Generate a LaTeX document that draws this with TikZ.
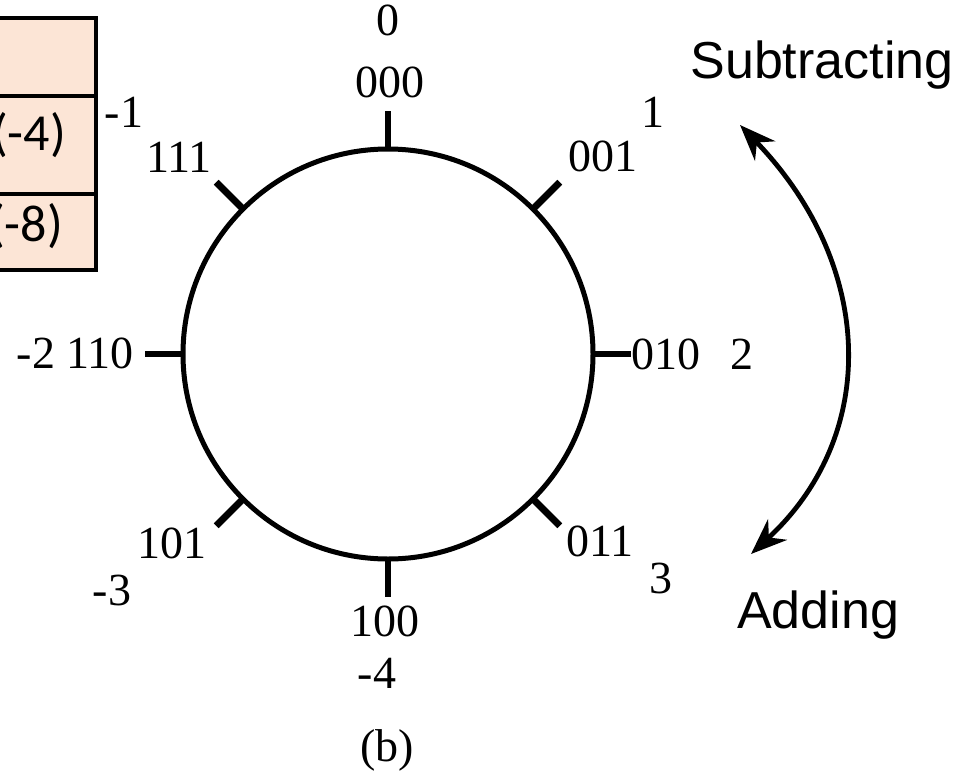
\documentclass[tikz,border=0pt]{standalone}
\usepackage{fontspec}
\setmainfont{Liberation Serif}
\setsansfont{Liberation Sans}
\newfontfamily\tabfont{Carlito}
\usepackage{tikz}
\usetikzlibrary{positioning,arrows.meta}

\definecolor{cellpeach}{RGB}{252,229,214}

\begin{document}
\begin{tikzpicture}[
  x=0.5pt, y=-0.5pt,
  every node/.style={inner sep=0pt, outer sep=0pt},
  num/.style={font=\fontsize{23}{25}\selectfont},
  word/.style={font=\sffamily\fontsize{26}{28}\selectfont, anchor=base},
  cell/.style={draw, line width=1.8pt, fill=cellpeach, minimum width=110pt},
  tabtext/.style={font=\tabfont\fontsize{26}{28}\selectfont, anchor=east},
  tick/.style={line width=3.4pt},
  turn/.style={line width=2.4pt, {Stealth[length=18pt,width=14pt]}-{Stealth[length=18pt,width=14pt]}}
]
\useasboundingbox (0,0) rectangle (969,776);
\clip (0,0) rectangle (969,776);

% cut-off table on the left
\node[cell, minimum height=39pt, anchor=north east] (row0) at (96,18) {};
\node[cell, minimum height=49pt, below=0pt of row0] (row1) {};
\node[cell, minimum height=38pt, below=0pt of row1] (row2) {};
\node[tabtext] (neg4) at (66,135) {(-4)};
\node[tabtext] (neg8) at (63,226) {(-8)};

% the ring of 3-bit codes
\node[circle, draw, line width=2.5pt, minimum size=205pt] (ring) at (388,354) {};
\foreach \a in {0,45,...,315}
  \draw[tick] (ring.\a) -- ++(\a:19pt);

\node[num] (d0)   at (388,20)  {0};
\node[num] (b000) at (390,82)  {000};
\node[num] (d1)   at (653,112) {1};
\node[num] (b001) at (603,156) {001};
\node[num] (b010) at (666,354) {010};
\node[num] (d2)   at (742,354) {2};
\node[num] (b011) at (600,541) {011};
\node[num] (d3)   at (661,578) {3};
\node[num] (b100) at (385,621) {100};
\node[num] (dm4)  at (377,673) {-4};
\node[num] (b101) at (172,543) {101};
\node[num] (dm3)  at (112,590) {-3};
\node[num] (b110) at (100,353) {110};
\node[num] (dm2)  at (36,353)  {-2};
\node[num] (b111) at (179,157) {111};
\node[num] (dm1)  at (124,112) {-1};
\node[num] (cap)  at (387,750) {(b)};

% direction of counting
\node[word] (sub) at (822,78)  {Subtracting};
\node[word] (add) at (818,628) {Adding};
\coordinate (subTip) at (740,125);
\coordinate (addTip) at (751,554);
\draw[turn] (subTip) .. controls (875,265) and (880,435) .. (addTip);
\end{tikzpicture}
\end{document}
